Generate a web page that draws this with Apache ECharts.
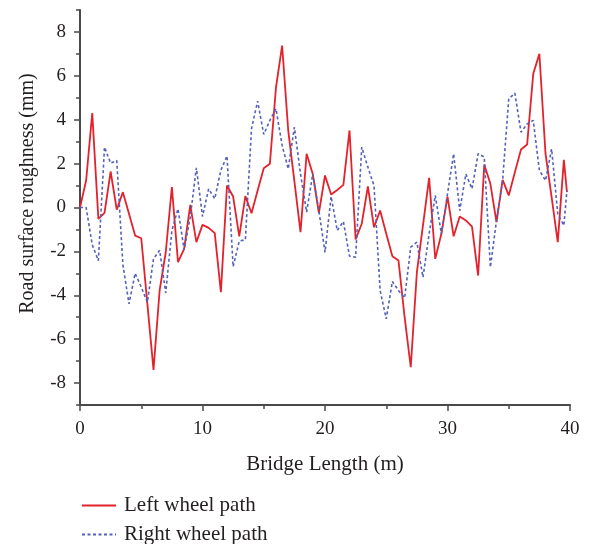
<!DOCTYPE html>
<html>
<head>
<meta charset="utf-8">
<script src="https://cdn.jsdelivr.net/npm/echarts@6/dist/echarts.min.js"></script>
<style>html,body{margin:0;padding:0;background:#fff}#c{width:592px;height:544px}</style>
</head>
<body>
<div id="c"></div>
<script>
// Bridge length positions (m)
var distance = [0,0.5,1,1.5,2,2.5,3,3.5,4,4.5,5,5.5,6,6.5,7,7.5,8,8.5,9,9.5,
  10,10.5,11,11.5,12,12.5,13,13.5,14,14.5,15,15.5,16,16.5,17,17.5,18,18.5,19,19.5,
  20,20.5,21,21.5,22,22.5,23,23.5,24,24.5,25,25.5,26,26.5,27,27.5,28,28.5,29,29.5,
  30,30.5,31,31.5,32,32.5,33,33.5,34,34.5,35,35.5,36,36.5,37,37.5,38,38.5,39,39.5,39.75];
// Left wheel path roughness (mm)
var leftWheel = [0,1.23,4.3,-0.52,-0.24,1.64,-0.1,0.7,-0.29,-1.28,-1.4,-4.39,-7.4,-3.78,-2.04,0.93,-2.49,-1.88,0.12,-1.58,
  -0.79,-0.93,-1.17,-3.86,1.0,0.5,-1.32,0.52,-0.26,0.77,1.79,1.99,5.48,7.38,3.5,1.2,-1.12,2.45,1.53,-0.25,
  1.46,0.59,0.8,1.03,3.51,-1.46,-0.74,0.96,-0.9,-0.14,-1.2,-2.22,-2.42,-5.0,-7.28,-2.95,-0.8,1.35,-2.34,-1.2,
  0.5,-1.31,-0.41,-0.59,-0.87,-3.1,1.96,1.08,-0.67,1.26,0.55,1.61,2.64,2.87,6.09,7.0,2.45,0.47,-1.58,2.17,0.7];
// Right wheel path roughness (mm)
var rightWheel = [0,0.0,-1.7,-2.42,2.75,2.02,2.14,-2.6,-4.39,-3.0,-3.63,-4.32,-2.34,-1.95,-3.89,-1.05,-0.06,-1.93,-0.44,1.81,
  -0.41,0.85,0.4,1.7,2.35,-2.7,-1.53,-1.47,3.59,4.85,3.33,3.97,4.5,2.83,1.76,3.66,1.53,-0.21,1.53,-0.14,
  -2.04,0.5,-1.05,-0.64,-2.22,-2.26,2.75,1.84,1.0,-3.78,-5.07,-3.37,-3.78,-4.12,-1.81,-1.58,-3.18,-1.2,0.55,-1.2,
  0.62,2.45,-0.14,1.53,0.85,2.45,2.3,-2.72,-0.59,1.23,4.95,5.21,3.43,3.81,3.97,1.69,1.23,2.67,-0.29,-0.82,0.77];
var yMajorTicks = [-8,-6,-4,-2,0,2,4,6,8];
var seriesNames = ['Left wheel path','Right wheel path'];
var xTitle = 'Bridge Length (m)';
var yTitle = 'Road surface roughness (mm)';

function pairs(xs, ys){ return xs.map(function(x,i){ return [x, ys[i]]; }); }

var FONT = 'Liberation Serif';
var TXT = '#231f20';
var AX = '#4a4a4a';

function legendFor(name, top){
  return {
    orient: 'vertical', left: 76, top: top, padding: 5,
    itemWidth: 34, itemHeight: 14, itemGap: 0,
    itemStyle: {opacity: 0},
    textStyle: {fontFamily: FONT, fontSize: 21, color: TXT, padding: [0,0,0,3]},
    data: [name]
  };
}

var chart = echarts.init(document.getElementById('c'), null, {renderer:'canvas'});
chart.setOption({
  animation: false,
  backgroundColor: '#fff',
  textStyle: {fontFamily: FONT},
  grid: {left: 80, right: 22, top: 10, bottom: 139, containLabel: false},
  legend: [legendFor(seriesNames[0], 490), legendFor(seriesNames[1], 519)],
  xAxis: {
    type: 'value', min: 0, max: 40, interval: 10,
    name: xTitle, nameLocation: 'middle', nameGap: 49,
    nameTextStyle: {fontFamily: FONT, fontSize: 21, color: TXT},
    axisLine: {show: true, onZero: false, lineStyle: {color: AX, width: 2}},
    axisTick: {show: true, inside: false, length: 6, lineStyle: {color: AX, width: 1.5}},
    minorTick: {show: true, splitNumber: 2, length: 4, lineStyle: {color: AX, width: 1.5}},
    axisLabel: {fontFamily: FONT, fontSize: 19, color: TXT, margin: 15},
    splitLine: {show: false}, minorSplitLine: {show: false}
  },
  yAxis: [{
    type: 'value', min: -9, max: 9,
    name: yTitle, nameLocation: 'middle', nameGap: 42, nameRotate: 90,
    nameTextStyle: {fontFamily: FONT, fontSize: 20, color: TXT, padding: [0,0,0,28]},
    axisLine: {show: true, onZero: false, lineStyle: {color: AX, width: 2}},
    axisTick: {show: true, length: 6, customValues: yMajorTicks, lineStyle: {color: AX, width: 1.5}},
    axisLabel: {fontFamily: FONT, fontSize: 19, color: TXT, margin: 14, customValues: yMajorTicks},
    splitLine: {show: false}
  }, {
    type: 'value', min: -9, max: 9, interval: 2, position: 'left',
    axisLine: {show: false},
    axisTick: {show: true, length: 4, lineStyle: {color: AX, width: 1.5}},
    axisLabel: {show: false},
    splitLine: {show: false}
  }],
  series: [{
    name: seriesNames[0], type: 'line', yAxisIndex: 0, symbol: 'none',
    data: pairs(distance, leftWheel),
    lineStyle: {color: '#e3222b', width: 1.8},
    itemStyle: {color: '#e3222b'}
  }, {
    name: seriesNames[1], type: 'line', yAxisIndex: 0, symbol: 'none',
    data: pairs(distance, rightWheel),
    lineStyle: {color: '#5361b8', width: 1.6, type: [3, 2.5]},
    itemStyle: {color: '#5361b8'}
  }]
});
</script>
</body>
</html>
